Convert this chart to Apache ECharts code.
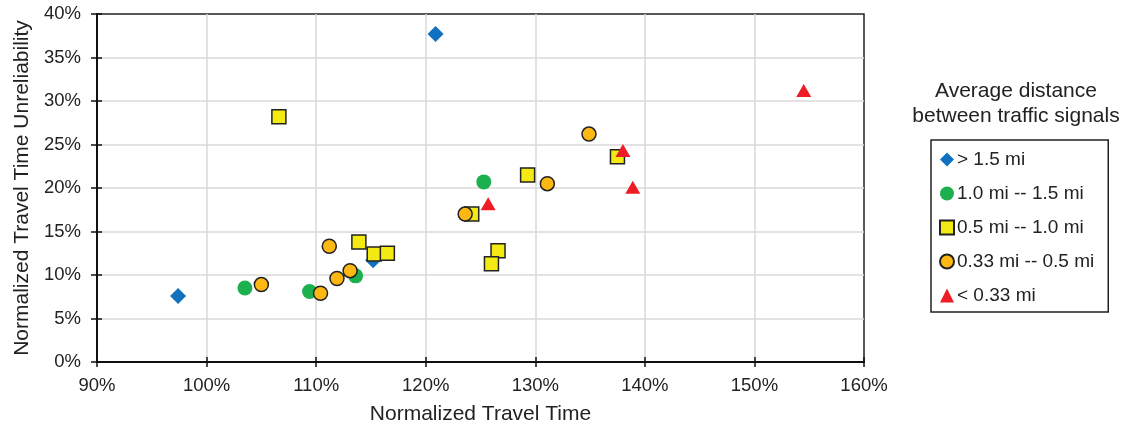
<!DOCTYPE html>
<html>
<head>
<meta charset="utf-8">
<script src="https://cdn.jsdelivr.net/npm/echarts@6/dist/echarts.min.js"></script>
<style>
  html, body { margin: 0; padding: 0; background: #fff; }
  #main { width: 1140px; height: 430px; }
</style>
</head>
<body>
<div id="main"></div>
<script>
// data: [normalized travel time %, unreliability %]
var seriesNames = ['> 1.5 mi', '1.0 mi -- 1.5 mi', '0.5 mi -- 1.0 mi', '0.33 mi -- 0.5 mi', '< 0.33 mi'];

var over15 = [[97.4, 7.6], [120.9, 37.7], [115.2, 11.7]];
var from10to15 = [[103.5, 8.5], [109.4, 8.1], [113.6, 9.9], [125.3, 20.7]];
var from05to10 = [[106.6, 28.2], [113.9, 13.8], [115.3, 12.4], [116.5, 12.5], [124.2, 17.0],
                  [129.3, 21.5], [126.6, 12.8], [126.0, 11.3], [137.5, 23.6]];
var from033to05 = [[105.0, 8.9], [110.4, 7.9], [111.2, 13.3], [111.9, 9.6], [113.1, 10.5],
                   [123.6, 17.0], [131.1, 20.5], [134.9, 26.2]];
var under033 = [[154.5, 31.2], [138.0, 24.3], [138.9, 20.1], [125.7, 18.2]];

var xTicks = [90, 160, 10];   // min, max, step
var yTicks = [0, 40, 5];

var chart = echarts.init(document.getElementById('main'));
var font = 'Liberation Sans, Arial, sans-serif';

function pct(v) { return v + '%'; }

var option = {
  animation: false,
  textStyle: { fontFamily: font },
  grid: { left: 97, right: 276, top: 14, bottom: 66, show: true, borderColor: '#222', borderWidth: 1.5 },
  graphic: [{
    type: 'text',
    x: 1016, y: 79,
    style: {
      text: 'Average distance\nbetween traffic signals',
      font: '21px ' + font,
      fill: '#222',
      align: 'center',
      lineHeight: 25
    }
  }],
  legend: {
    orient: 'vertical',
    left: 931, top: 140,
    width: 172,
    padding: [10, 14, 7, 8],
    itemGap: 15,
    itemWidth: 14, itemHeight: 14,
    borderColor: '#222', borderWidth: 1.5,
    textStyle: { fontSize: 19, color: '#222', fontFamily: font, padding: [0, 0, 0, -2] },
    data: seriesNames
  },
  xAxis: [{
    type: 'value',
    min: xTicks[0], max: xTicks[1], interval: xTicks[2],
    name: 'Normalized Travel Time',
    nameLocation: 'middle', nameGap: 42,
    nameTextStyle: { fontSize: 21, color: '#222' },
    axisLine: { lineStyle: { color: '#111', width: 2 } },
    axisTick: { show: true, length: 5, lineStyle: { color: '#111', width: 1.5 } },
    axisLabel: { formatter: pct, fontSize: 18.5, color: '#222', margin: 14 },
    splitLine: { showMaxLine: false, lineStyle: { color: '#d9d9d9', width: 1.5 } }
  }, {
    type: 'value', position: 'bottom', offset: 0,
    min: xTicks[0], max: xTicks[1], interval: xTicks[2],
    axisLine: { show: false },
    axisTick: { show: true, inside: true, length: 5, lineStyle: { color: '#111', width: 1.5 } },
    axisLabel: { show: false },
    splitLine: { show: false }
  }],
  yAxis: [{
    type: 'value',
    min: yTicks[0], max: yTicks[1], interval: yTicks[2],
    name: 'Normalized Travel Time Unreliability',
    nameLocation: 'middle', nameGap: 60,
    nameTextStyle: { fontSize: 21, color: '#222' },
    axisLine: { show: true, lineStyle: { color: '#111', width: 2 } },
    axisTick: { show: true, length: 6, lineStyle: { color: '#111', width: 1.5 } },
    axisLabel: { formatter: pct, fontSize: 18.5, color: '#222', margin: 16 },
    splitLine: { showMaxLine: false, lineStyle: { color: '#d9d9d9', width: 1.5 } }
  }, {
    type: 'value', position: 'left', offset: 0,
    min: yTicks[0], max: yTicks[1], interval: yTicks[2],
    axisLine: { show: false },
    axisTick: { show: true, inside: true, length: 5, lineStyle: { color: '#111', width: 1.5 } },
    axisLabel: { show: false },
    splitLine: { show: false }
  }],
  series: [
    { name: seriesNames[0], type: 'scatter', symbol: 'diamond', symbolSize: 16, z: 1,
      itemStyle: { color: '#1170c0', opacity: 1 }, data: over15 },
    { name: seriesNames[1], type: 'scatter', symbol: 'circle', symbolSize: 15, z: 2,
      itemStyle: { color: '#1db04e', opacity: 1 }, data: from10to15 },
    { name: seriesNames[2], type: 'scatter', symbol: 'rect', symbolSize: 14, z: 3,
      itemStyle: { color: '#f2ea12', borderColor: '#222', borderWidth: 1.5, opacity: 1 }, data: from05to10 },
    { name: seriesNames[3], type: 'scatter', symbol: 'circle', symbolSize: 14, z: 4,
      itemStyle: { color: '#fdb813', borderColor: '#222', borderWidth: 1.5, opacity: 1 }, data: from033to05 },
    { name: seriesNames[4], type: 'scatter', symbol: 'triangle', symbolSize: [15, 13], z: 5,
      itemStyle: { color: '#ee1c24', opacity: 1 }, data: under033 }
  ]
};

chart.setOption(option);
</script>
</body>
</html>
